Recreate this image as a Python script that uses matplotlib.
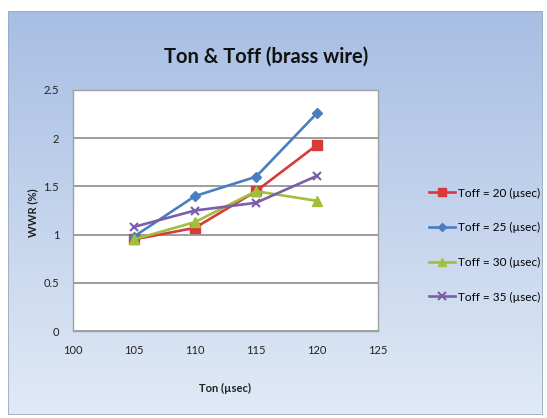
import numpy as np
import matplotlib.pyplot as plt
from matplotlib.patches import Rectangle

ton = [105, 110, 115, 120]
wwr_toff20 = [0.95, 1.07, 1.45, 1.93]
wwr_toff25 = [0.98, 1.40, 1.60, 2.26]
wwr_toff30 = [0.95, 1.13, 1.45, 1.35]
wwr_toff35 = [1.08, 1.25, 1.33, 1.61]
series_labels = ["Toff = 20 (µsec)", "Toff = 25 (µsec)",
                 "Toff = 30 (µsec)", "Toff = 35 (µsec)"]
x_ticks = [100, 105, 110, 115, 120, 125]
y_ticks = [0, 0.5, 1, 1.5, 2, 2.5]
y_tick_labels = ["0", "0.5", "1", "1.5", "2", "2.5"]

W, H = 547, 418
fig = plt.figure(figsize=(W / 100, H / 100), dpi=100)
fig.patch.set_facecolor("white")

# gradient chart-area background with a thin frame
bg = fig.add_axes([8 / W, 1 - 415 / H, (543 - 8) / W, (415 - 11) / H])
grad = np.linspace(0, 1, 256).reshape(-1, 1)
top = np.array([0.655, 0.745, 0.890])
bot = np.array([0.880, 0.915, 0.965])
img = top + (bot - top) * grad[..., None]
bg.imshow(img, aspect="auto", extent=[0, 1, 0, 1], origin="upper")
bg.set_xlim(0, 1)
bg.set_ylim(0, 1)
bg.axis("off")
bg.add_patch(Rectangle((0, 0), 1, 1, fill=False, edgecolor="#9aa9c0",
                       linewidth=1.2, transform=bg.transAxes))

# plot area
left, right, top_px, bottom_px = 73, 378, 90, 331
ax = fig.add_axes([left / W, 1 - bottom_px / H, (right - left) / W,
                   (bottom_px - top_px) / H])
ax.set_facecolor("white")

styles = [
    dict(color="#d8393a", marker="s", markersize=7),
    dict(color="#4a7ebf", marker="D", markersize=5),
    dict(color="#a0bf3a", marker="^", markersize=7),
    dict(color="#7a5ea8", marker="x", markersize=6, markeredgewidth=1.5),
]
for ys, lab, st in zip([wwr_toff20, wwr_toff25, wwr_toff30, wwr_toff35],
                       series_labels, styles):
    ax.plot(ton, ys, label=lab, linewidth=1.9, **st)

ax.set_xlim(100, 125)
ax.set_ylim(0, 2.5)
ax.set_xticks(x_ticks)
ax.set_yticks(y_ticks)
ax.set_yticklabels(y_tick_labels)
ax.yaxis.grid(True, color="#8c8c8c", linewidth=1.2)
ax.set_axisbelow(True)
ax.tick_params(length=0, labelsize=8, colors="#222222", pad=10)
for sp in ax.spines.values():
    sp.set_color("#a0a0a0")
    sp.set_linewidth(1.0)

font = "Lato"
for t in ax.get_xticklabels() + ax.get_yticklabels():
    t.set_fontfamily(font)

fig.text(266 / W, 1 - 57 / H, "Ton & Toff (brass wire)", ha="center",
         va="center", fontsize=14.5, fontweight="bold", family=font,
         color="#111111")
fig.text(33 / W, 1 - 213 / H, "WWR (%)", ha="center", va="center",
         rotation=90, fontsize=8, fontweight="bold", family=font,
         color="#222222")
fig.text(225 / W, 1 - 388 / H, "Ton (µsec)", ha="center", va="center",
         fontsize=8, fontweight="bold", family=font, color="#222222")

leg = ax.legend(loc="center left", bbox_to_anchor=(418 / W, 1 - 245 / H),
                bbox_transform=fig.transFigure, frameon=False,
                prop=dict(family=font, size=8.5), handlelength=2.2,
                handletextpad=0.3, labelspacing=2.0, markerscale=0.85)

fig.savefig("out.png", dpi=100)
